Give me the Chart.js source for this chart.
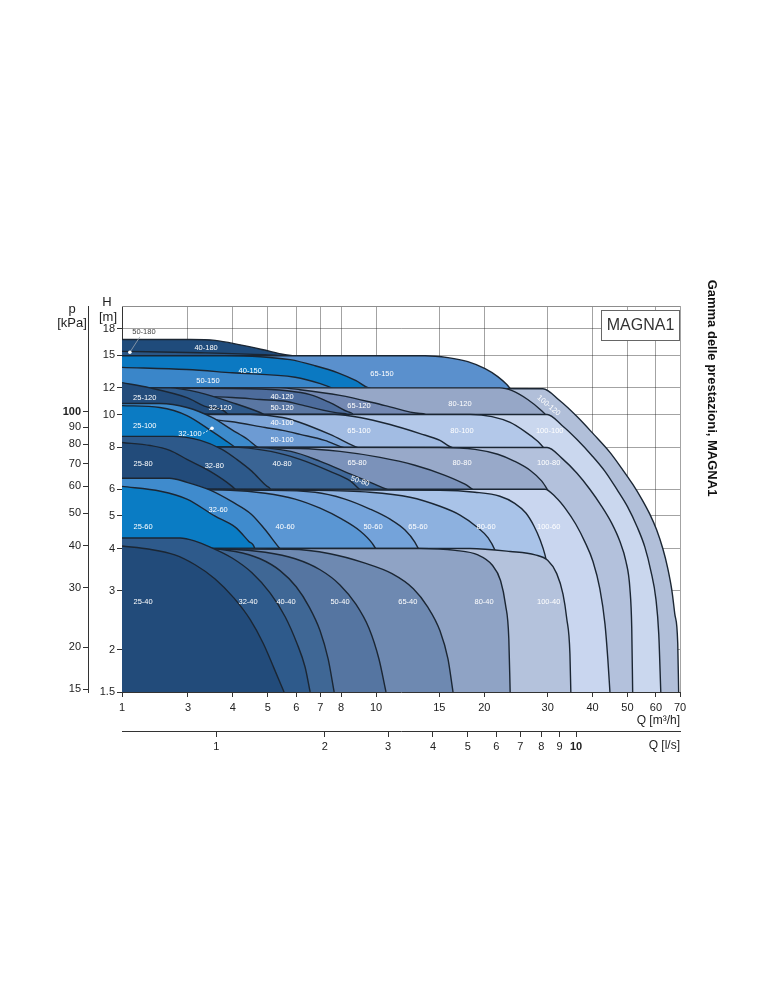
<!DOCTYPE html>
<html>
<head>
<meta charset="utf-8">
<title>Gamma delle prestazioni, MAGNA1</title>
<script src="https://cdn.jsdelivr.net/npm/chart.js@4.4.1/dist/chart.umd.min.js"></script>
<style>
  html, body { margin: 0; padding: 0; background: #fff; }
  #wrap { width: 771px; height: 1000px; }
</style>
</head>
<body>
<div id="wrap"><canvas id="range" width="771" height="1000"></canvas></div>
<script>
// axis ticks
const qTicks = [1, 3, 4, 5, 6, 7, 8, 10, 15, 20, 30, 40, 50, 60, 70];   // m3/h
const lsTicks = [1, 2, 3, 4, 5, 6, 7, 8, 9, 10];                        // l/s
const hTicks = [1.5, 2, 3, 4, 5, 6, 8, 10, 12, 15, 18];                 // m
const pTicks = [15, 20, 30, 40, 50, 60, 70, 80, 90, 100];               // kPa

// max curves [Q m3/h, H m], each row listed back to front
const row180 = [
  ['40-180', [[1, 16.7], [3.04, 16.7], [3.57, 16.6], [4.19, 16.1], [4.82, 15.6], [5.59, 15.05], [6.35, 14.75], [7.45, 14.05], [9.0, 12.9], [10.26, 11.85], [10.9, 11.1], [12, 1.5]]],
  ['50-180', [[1, 15.4], [3.25, 15.25], [4.92, 15.05], [6.15, 14.85], [7.45, 14.35], [9, 1.5]]]
];
const row150 = [
  ['65-150', [[1, 14.95], [13.68, 14.95], [15.85, 14.75], [18.0, 14.35], [20.1, 13.68], [21.8, 12.96], [23.1, 12.27], [24.0, 11.7], [24.6, 11.08], [27, 1.5]]],
  ['40-150', [[1, 14.95], [3.81, 14.95], [4.76, 14.85], [5.77, 14.55], [6.77, 13.96], [7.84, 13.3], [8.8, 12.6], [9.5, 12.02], [9.94, 11.38], [11, 1.5]]],
  ['50-150', [[1, 13.8], [2.95, 13.6], [3.98, 13.3], [5.96, 12.9], [7.0, 12.35], [7.7, 11.85], [7.94, 11.08], [8.5, 1.5]]]
];
const row120 = [
  ['100-120', [[1, 12], [29.1, 11.93], [32.4, 11.0], [36.2, 9.86], [40.3, 8.73], [44.7, 7.72], [48.2, 6.92], [51.7, 6.21], [54.8, 5.61], [57.7, 5.06], [60.3, 4.54], [62.7, 4.0], [64.7, 3.5], [66.4, 3.02], [67.7, 2.56], [69.0, 2.09], [69.4, 1.5]]],
  ['80-120', [[1, 12], [22.1, 12], [23.9, 11.77], [26.4, 11.08], [28.6, 10.35], [29.9, 9.86], [30.8, 9.34], [31.6, 8.43], [32, 1.5]]],
  ['65-120', [[1, 12], [5.41, 12], [6.15, 11.85], [7.94, 11.4], [10.6, 10.63], [13.25, 10.07], [14.1, 9.66], [15, 1.5]]],
  ['40-120', [[1, 12], [4.47, 11.93], [5.66, 11.77], [6.56, 11.46], [7.45, 10.85], [8.47, 10.14], [8.74, 9.66], [9.2, 1.5]]],
  ['50-120', [[1, 11.46], [3.98, 11.23], [4.76, 11.08], [5.66, 10.93], [6.15, 10.7], [8.09, 10.07], [8.47, 9.66], [8.9, 1.5]]],
  ['32-120', [[1, 12], [2.22, 12], [3.25, 11.6], [3.98, 10.85], [4.76, 10.14], [5.24, 9.66], [5.6, 9.03], [6.0, 1.5]]],
  ['25-120', [[1, 12.44], [1.59, 12], [2.95, 11.23], [3.46, 10.49], [3.93, 9.8], [4.3, 1.5]]]
];
const row100 = [
  ['100-100', [[1, 10], [29.9, 10], [32.9, 9.28], [36.2, 8.43], [39.8, 7.56], [43.3, 6.78], [46.7, 6.0], [50.1, 5.31], [53.1, 4.66], [55.9, 4.04], [58.1, 3.43], [60.0, 2.83], [61.1, 2.23], [61.9, 1.5]]],
  ['80-100', [[1, 10], [18.25, 10], [21.0, 9.86], [23.6, 9.47], [25.9, 8.91], [28.2, 8.32], [29.9, 7.83], [31.0, 7.26], [32, 1.5]]],
  ['65-100', [[1, 10], [7.69, 10], [9.03, 9.8], [10.94, 9.34], [13.25, 8.78], [15.06, 8.38], [16.27, 7.98], [16.9, 7.46], [17.5, 1.5]]],
  ['40-100', [[1, 10], [4.47, 10], [5.5, 9.8], [6.15, 9.47], [7.45, 8.73], [9.2, 7.88], [9.6, 7.36], [10, 1.5]]],
  ['50-100', [[1, 10.2], [3.93, 9.53], [4.92, 9.15], [5.5, 8.97], [6.15, 8.73], [7.2, 8.38], [8.1, 7.98], [8.5, 7.36], [9, 1.5]]],
  ['32-100', [[1, 10.78], [1.88, 10.78], [2.95, 10.49], [3.5, 9.8], [3.98, 9.0], [4.4, 8.43], [4.7, 7.98], [4.9, 7.36], [5.2, 1.5]]],
  ['25-100', [[1, 10.63], [1.88, 10.49], [2.95, 9.93], [3.5, 8.91], [3.81, 8.38], [4.06, 7.98], [4.2, 7.36], [4.5, 1.5]]]
];
const row80 = [
  ['100-80', [[1, 8], [29.9, 7.98], [32.9, 7.41], [36.2, 6.69], [39.3, 6.0], [42.4, 5.34], [45.2, 4.76], [47.6, 4.21], [49.5, 3.67], [50.8, 3.04], [51.4, 2.32], [51.7, 1.5]]],
  ['80-80', [[1, 8], [15.06, 7.98], [18.84, 7.88], [21.8, 7.62], [24.3, 7.26], [26.8, 6.83], [28.9, 6.34], [30.4, 5.84], [31.4, 5.31], [32, 3.5], [32.5, 1.5]]],
  ['65-80', [[1, 8], [6.15, 7.93], [7.94, 7.77], [10.26, 7.46], [12.82, 7.07], [15.55, 6.6], [17.67, 6.21], [19.2, 5.88], [20.1, 5.53], [21, 1.5]]],
  ['50-80', [[1, 8], [4.2, 8], [5.8, 7.77], [7.0, 7.26], [8.5, 6.65], [9.9, 6.21], [10.7, 6.0], [11.1, 5.61], [11.5, 1.5]]],
  ['40-80', [[1, 8], [3.9, 8], [5.1, 7.77], [6.15, 7.36], [7.45, 6.78], [8.5, 6.34], [9.0, 6.0], [9.3, 5.61], [9.8, 1.5]]],
  ['32-80', [[1, 8.61], [2.34, 8.61], [3.25, 8.38], [3.73, 7.88], [4.1, 7.36], [4.52, 6.78], [4.98, 6.12], [5.14, 5.8], [5.6, 1.5]]],
  ['25-80', [[1, 8.26], [1.6, 8.09], [2.22, 7.83], [2.95, 7.36], [3.46, 6.78], [3.98, 6.12], [4.19, 5.8], [4.47, 5.24], [5.0, 1.5]]]
];
const row60 = [
  ['100-60', [[1, 6], [29.5, 6], [31.6, 5.68], [33.7, 5.24], [35.9, 4.73], [38.1, 4.18], [40.1, 3.66], [41.9, 3.04], [43.3, 2.39], [44.1, 1.88], [44.7, 1.5]]],
  ['80-60', [[1, 6], [15.06, 5.96], [18.84, 5.88], [22.1, 5.72], [24.3, 5.45], [26.1, 5.1], [27.5, 4.66], [28.6, 4.24], [29.5, 3.83], [30.2, 3.37], [31.5, 2.6], [32, 1.5]]],
  ['65-60', [[1, 6], [6.15, 5.96], [9.62, 5.88], [12.43, 5.68], [15.06, 5.34], [17.12, 5.03], [18.96, 4.66], [20.5, 4.3], [21.5, 3.92], [22.1, 3.6], [23.5, 1.5]]],
  ['50-60', [[1, 6], [4.76, 5.96], [6.77, 5.88], [8.2, 5.61], [9.62, 5.24], [10.94, 4.89], [12.04, 4.54], [12.82, 4.18], [13.34, 3.83], [13.68, 3.48], [15, 1.5]]],
  ['40-60', [[1, 6], [3.93, 5.96], [4.92, 5.84], [5.96, 5.61], [6.99, 5.27], [8.04, 4.89], [9.03, 4.51], [9.75, 4.15], [10.19, 3.83], [10.46, 3.48], [11, 1.5]]],
  ['32-60', [[1, 6.47], [2.2, 6.47], [2.95, 6.29], [3.46, 5.96], [4.0, 5.49], [4.5, 5.06], [4.9, 4.57], [5.4, 4.0], [5.8, 3.48], [6.2, 1.5]]],
  ['25-60', [[1, 6.12], [1.9, 5.92], [2.95, 5.61], [3.57, 4.99], [4.06, 4.63], [4.43, 4.2], [4.6, 4.0], [4.7, 3.48], [5.0, 1.5]]]
];
const row40 = [
  ['100-40', [[1, 4], [18.25, 4], [23.6, 3.92], [27.7, 3.83], [30.0, 3.69], [31.8, 3.37], [33.1, 2.93], [33.9, 2.48], [34.6, 1.95], [34.8, 1.5]]],
  ['80-40', [[1, 4], [13.25, 4], [16.6, 3.95], [19.2, 3.83], [21.0, 3.58], [22.2, 3.21], [22.9, 2.73], [23.4, 2.16], [23.6, 1.5]]],
  ['65-40', [[1, 4], [5.77, 3.98], [7.45, 3.86], [9.32, 3.62], [11.08, 3.37], [12.7, 3.04], [13.9, 2.69], [15.06, 2.28], [15.85, 1.88], [16.37, 1.5]]],
  ['50-40', [[1, 4], [3.93, 3.98], [4.92, 3.9], [5.96, 3.73], [6.99, 3.46], [7.94, 3.12], [8.8, 2.73], [9.56, 2.32], [10.19, 1.88], [10.66, 1.5]]],
  ['40-40', [[1, 4], [3.35, 4], [4.06, 3.92], [4.76, 3.73], [5.41, 3.44], [6.0, 3.08], [6.51, 2.69], [6.99, 2.28], [7.36, 1.88], [7.65, 1.5]]],
  ['32-40', [[1, 4.3], [2.63, 4.3], [3.14, 4.21], [3.46, 4.04], [3.98, 3.75], [4.52, 3.39], [5.08, 2.95], [5.59, 2.51], [6.03, 2.09], [6.35, 1.78], [6.56, 1.5]]],
  ['25-40', [[1, 4.07], [1.59, 3.98], [2.41, 3.83], [3.14, 3.58], [3.57, 3.25], [4.03, 2.85], [4.47, 2.46], [4.86, 2.09], [5.21, 1.76], [5.55, 1.5]]]
];
const rows = [row180, row150, row120, row100, row80, row60, row40];

const shades = {
  '40-180': '#1f4b7b', '50-180': '#2a5686',
  '65-150': '#5a90cd', '40-150': '#0b79c2', '50-150': '#3a86c9',
  '100-120': '#b1bfd9', '80-120': '#96a7c7', '65-120': '#7489b3', '40-120': '#4d6c9c',
  '50-120': '#5a77a3', '32-120': '#2f5a8b', '25-120': '#234c7b',
  '100-100': '#cad7ee', '80-100': '#b3c8e9', '65-100': '#a2bce3', '40-100': '#7fa6d8',
  '50-100': '#6d9bd3', '32-100': '#3d8bcc', '25-100': '#0b7bc3',
  '100-80': '#b3c1dc', '80-80': '#98a9c9', '65-80': '#7b92ba', '50-80': '#41699a',
  '40-80': '#3a6494', '32-80': '#2d598a', '25-80': '#224b7a',
  '100-60': '#c9d6ef', '80-60': '#a9c3e8', '65-60': '#8db1df', '50-60': '#74a3da',
  '40-60': '#5a96d3', '32-60': '#3f8bcd', '25-60': '#0a7cc4',
  '100-40': '#b4c2dc', '80-40': '#8fa3c5', '65-40': '#6e89b1', '50-40': '#5575a1',
  '40-40': '#3f6795', '32-40': '#2e5a8b', '25-40': '#224b7a'
};

// where each model name sits, [name, Q, H, turn in degrees]
const tagAnchors = [
  ['40-180', 3.37, 15.8], ['40-150', 4.47, 13.5], ['65-150', 10.39, 13.2], ['50-150', 3.41, 12.6],
  ['25-120', 1.46, 11.23], ['40-120', 5.48, 11.3], ['50-120', 5.48, 10.49], ['32-120', 3.69, 10.49],
  ['65-120', 8.97, 10.63], ['80-120', 17.12, 10.78], ['100-120', 30.2, 10.63, 40],
  ['25-100', 1.46, 9.28], ['40-100', 5.48, 9.47], ['50-100', 5.48, 8.43], ['32-100', 3.04, 8.73],
  ['65-100', 8.97, 8.91], ['80-100', 17.34, 8.91], ['100-100', 30.4, 8.91],
  ['25-80', 1.42, 7.11], ['32-80', 3.55, 7.06], ['40-80', 5.48, 7.11], ['65-80', 8.86, 7.16],
  ['50-80', 9.03, 6.34, 18], ['80-80', 17.34, 7.16], ['100-80', 30.2, 7.16],
  ['32-60', 3.64, 5.2], ['25-60', 1.42, 4.63], ['40-60', 5.59, 4.63], ['50-60', 9.81, 4.63],
  ['65-60', 13.08, 4.63], ['80-60', 20.23, 4.63], ['100-60', 30.2, 4.63],
  ['25-40', 1.42, 2.77], ['32-40', 4.41, 2.77], ['40-40', 5.62, 2.77], ['50-40', 7.94, 2.77],
  ['65-40', 12.26, 2.77], ['80-40', 19.97, 2.77], ['100-40', 30.2, 2.77]
];

// the sheet squeezes 1..3 m3/h, above 3 it is plain log
const LOG3 = Math.log10(3);
function qToU(q) {
  const l = Math.log10(q);
  return l >= LOG3 ? l : LOG3 - (LOG3 - l) * 0.3842;
}

Chart.defaults.font.family = "'Liberation Sans', Arial, sans-serif";
Chart.defaults.color = '#222';

const layers = [];
rows.forEach(row => row.forEach(([name, pts]) => {
  layers.push({
    label: name,
    data: pts.map(([q, h]) => ({ x: qToU(q), y: h })),
    xAxisID: 'x',
    yAxisID: 'y',
    borderColor: '#1b2633',
    borderWidth: 1.4,
    backgroundColor: shades[name],
    fill: 'start',
    pointRadius: 0,
    cubicInterpolationMode: 'monotone'
  });
}));
layers.reverse(); // dataset 0 is painted last

const gridTint = 'rgba(35,35,35,0.42)';
const uMin = qToU(1), uMax = qToU(70);

const sheetExtras = {
  id: 'sheetExtras',
  afterDraw(chart) {
    const { ctx, chartArea: a, scales } = chart;
    const px = q => scales.x.getPixelForValue(qToU(q));
    const py = h => scales.y.getPixelForValue(h);
    ctx.save();

    // top edge of the frame
    ctx.strokeStyle = '#8d8d8d';
    ctx.lineWidth = 1;
    ctx.beginPath();
    ctx.moveTo(a.left, a.top + 0.5);
    ctx.lineTo(a.right, a.top + 0.5);
    ctx.stroke();

    // model names
    ctx.font = "7.5px 'Liberation Sans', Arial, sans-serif";
    ctx.fillStyle = '#fff';
    ctx.textAlign = 'center';
    ctx.textBaseline = 'middle';
    tagAnchors.forEach(([name, q, h, turn]) => {
      ctx.save();
      ctx.translate(px(q), py(h));
      if (turn) ctx.rotate(turn * Math.PI / 180);
      ctx.fillText(name, 0, 0);
      ctx.restore();
    });

    // 50-180 callout
    const d1x = px(1.14), d1y = py(15.3);
    const t1x = px(1.44), t1y = py(17.6);
    ctx.fillStyle = '#444';
    ctx.fillText('50-180', t1x, t1y);
    ctx.strokeStyle = '#9aa3ad';
    ctx.lineWidth = 0.8;
    ctx.beginPath();
    ctx.moveTo(t1x - 4, t1y + 5);
    ctx.lineTo(d1x, d1y);
    ctx.stroke();
    ctx.fillStyle = '#fff';
    ctx.beginPath();
    ctx.arc(d1x, d1y, 1.8, 0, Math.PI * 2);
    ctx.fill();

    // 32-100 callout
    const d2x = px(3.5), d2y = py(9.1);
    const t2x = px(3.04), t2y = py(8.73);
    ctx.strokeStyle = '#fff';
    ctx.setLineDash([2, 1.5]);
    ctx.beginPath();
    ctx.moveTo(t2x + 13, t2y - 1);
    ctx.lineTo(d2x, d2y);
    ctx.stroke();
    ctx.setLineDash([]);
    ctx.beginPath();
    ctx.arc(d2x, d2y, 1.8, 0, Math.PI * 2);
    ctx.fill();

    // MAGNA1 box
    ctx.fillStyle = '#fff';
    ctx.fillRect(a.right - 79, a.top + 4, 79, 31);
    ctx.strokeStyle = '#666';
    ctx.lineWidth = 1;
    ctx.strokeRect(a.right - 78.5, a.top + 4.5, 78, 30);
    ctx.fillStyle = '#333';
    ctx.font = "16px 'Liberation Sans', Arial, sans-serif";
    ctx.fillText('MAGNA1', a.right - 39.5, a.top + 20);

    // axis captions
    ctx.fillStyle = '#222';
    ctx.font = "13px 'Liberation Sans', Arial, sans-serif";
    const pr = scales.p.right;
    ctx.fillText('p', pr - 16, a.top + 3);
    ctx.fillText('[kPa]', pr - 16, a.top + 17);
    ctx.fillText('H', scales.y.left + 19, a.top - 4);
    ctx.fillText('[m]', scales.y.left + 20, a.top + 11);
    ctx.font = "12px 'Liberation Sans', Arial, sans-serif";
    ctx.textAlign = 'right';
    ctx.fillText('Q [m³/h]', a.right, a.bottom + 29);
    ctx.fillText('Q [l/s]', a.right, scales.x2.top + 15);

    // side title
    ctx.save();
    ctx.translate(712, 388);
    ctx.rotate(Math.PI / 2);
    ctx.textAlign = 'center';
    ctx.font = "bold 13px 'Liberation Sans', Arial, sans-serif";
    ctx.fillStyle = '#111';
    ctx.fillText('Gamma delle prestazioni, MAGNA1', 0, 0);
    ctx.restore();

    ctx.restore();
  }
};

new Chart(document.getElementById('range'), {
  type: 'line',
  data: { datasets: layers },
  plugins: [sheetExtras],
  options: {
    responsive: false,
    animation: false,
    events: [],
    layout: { padding: { left: 48, right: 91, top: 306, bottom: 245 } },
    plugins: { legend: { display: false }, tooltip: { enabled: false } },
    scales: {
      x: {
        type: 'linear', position: 'bottom', min: uMin, max: uMax, z: 1,
        afterBuildTicks: s => { s.ticks = qTicks.map(q => ({ value: qToU(q) })); },
        afterFit: s => { s.height = 39; },
        ticks: { callback: (v, i) => String(qTicks[i]), autoSkip: false, maxRotation: 0, padding: 4, font: { size: 11 } },
        grid: { color: gridTint, tickColor: '#333', tickLength: 5 },
        border: { color: '#333' }
      },
      x2: {
        type: 'linear', position: 'bottom', weight: 1, min: uMin, max: uMax,
        afterBuildTicks: s => { s.ticks = lsTicks.map(v => ({ value: qToU(v * 3.6) })); },
        afterFit: s => { s.height = 24; },
        ticks: {
          callback: (v, i) => String(lsTicks[i]), autoSkip: false, maxRotation: 0, padding: 3,
          font: c => ({ size: 11, weight: c.index === lsTicks.length - 1 ? 'bold' : 'normal' })
        },
        grid: { drawOnChartArea: false, tickColor: '#333', tickLength: 6 },
        border: { color: '#333' }
      },
      y: {
        type: 'logarithmic', position: 'left', min: 1.5, max: 21, z: 1,
        afterBuildTicks: s => { s.ticks = hTicks.map(v => ({ value: v })); },
        afterFit: s => { s.width = 34; },
        ticks: { callback: v => String(v), autoSkip: false, padding: 2, font: { size: 11 } },
        grid: {
          color: c => (c.tick && c.tick.value === 1.5 ? 'rgba(0,0,0,0)' : gridTint),
          tickColor: '#333', tickLength: 5
        },
        border: { color: '#333' }
      },
      p: {
        type: 'logarithmic', position: 'left', weight: 1, min: 1.5 * 9.81, max: 21 * 9.81,
        afterBuildTicks: s => { s.ticks = pTicks.map(v => ({ value: v })); },
        afterFit: s => { s.width = 40; },
        ticks: {
          callback: v => String(v), autoSkip: false, padding: 2,
          font: c => ({ size: 11, weight: c.tick && c.tick.value === 100 ? 'bold' : 'normal' })
        },
        grid: { drawOnChartArea: false, tickColor: '#333', tickLength: 5 },
        border: { color: '#333' }
      }
    }
  }
});
</script>
</body>
</html>
